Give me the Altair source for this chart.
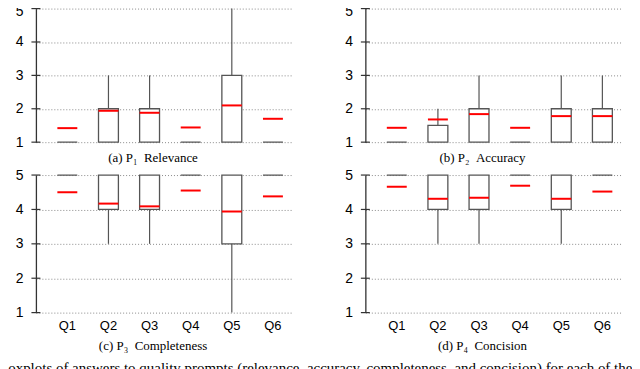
import altair as alt
import pandas as pd

questions = ["Q1", "Q2", "Q3", "Q4", "Q5", "Q6"]
tick_values = [1, 2, 3, 4, 5]

# (a) P1 Relevance
rel_min = [1, 1, 1, 1, 1, 1]
rel_q1 = [1, 1, 1, 1, 1, 1]
rel_q3 = [1, 2, 2, 1, 3, 1]
rel_max = [1, 3, 3, 1, 5, 1]
rel_mean = [1.42, 1.94, 1.88, 1.44, 2.10, 1.70]

# (b) P2 Accuracy
acc_min = [1, 1, 1, 1, 1, 1]
acc_q1 = [1, 1, 1, 1, 1, 1]
acc_q3 = [1, 1.5, 2, 1, 2, 2]
acc_max = [1, 2, 3, 1, 3, 3]
acc_mean = [1.43, 1.68, 1.84, 1.43, 1.78, 1.78]

# (c) P3 Completeness
com_min = [5, 3, 3, 5, 1, 5]
com_q1 = [5, 4, 4, 5, 3, 5]
com_q3 = [5, 5, 5, 5, 5, 5]
com_max = [5, 5, 5, 5, 5, 5]
com_mean = [4.50, 4.17, 4.09, 4.55, 3.94, 4.38]

# (d) P4 Concision
con_min = [5, 3, 3, 5, 3, 5]
con_q1 = [5, 4, 4, 5, 4, 5]
con_q3 = [5, 5, 5, 5, 5, 5]
con_max = [5, 5, 5, 5, 5, 5]
con_mean = [4.66, 4.31, 4.34, 4.69, 4.31, 4.52]

captions = ["(a) P\u2081\u2002Relevance", "(b) P\u2082\u2002Accuracy",
            "(c) P\u2083\u2002Completeness", "(d) P\u2084\u2002Concision"]
figure_caption = ("Boxplots of answers to quality prompts (relevance, accuracy, "
                  "completeness, and concision) for each of the questions.")

SANS = "Liberation Sans"
SERIF = "Liberation Serif"


def panel(mins, q1s, q3s, maxs, means, caption, show_x, cap_offset, h, top_nudge):
    df = pd.DataFrame({"q": questions, "lo": mins, "q1": q1s, "q3": q3s,
                       "hi": maxs, "mean": means})
    xscale = alt.Scale(domain=questions, paddingInner=0.516,
                       paddingOuter=0.373, align=0.7)
    yscale = alt.Scale(domain=[1, 5], nice=False, zero=False)
    xaxis = alt.Axis(title=None, domain=False, ticks=False, grid=False,
                     labels=show_x, labelFontSize=13, labelFont=SANS,
                     labelColor="black", labelPadding=7, labelAngle=0)
    yaxis = alt.Axis(title=None, values=tick_values, format="d", domain=True,
                     domainColor="#333", domainWidth=1.3, ticks=False,
                     labelPadding=13, labelFontSize=14, labelFont=SANS,
                     labelColor="black", grid=True, gridColor="#8a8a8a",
                     gridDash=[1, 2], gridWidth=1,
                     labelOffset={"condition": {"test": "datum.value == 5",
                                                "value": top_nudge},
                                  "value": 0})
    base = alt.Chart(df)
    X = alt.X("q:N", scale=xscale, axis=xaxis, sort=questions)
    whisk = base.mark_rule(color="#555", strokeWidth=1.2).encode(
        x=X, y=alt.Y("lo:Q", scale=yscale, axis=yaxis), y2="hi:Q")
    box = base.mark_bar(fill="white", stroke="#555", strokeWidth=1.3).encode(
        x=X, y=alt.Y("q1:Q", scale=yscale, axis=yaxis), y2="q3:Q")
    mean = base.mark_tick(color="#ff0000", thickness=2, size=20,
                          orient="horizontal", opacity=1).encode(
        x=X, y=alt.Y("mean:Q", scale=yscale, axis=yaxis))
    ticks = alt.Chart(pd.DataFrame({"v": tick_values})).mark_tick(
        color="#333", thickness=1.2, size=9, orient="horizontal", opacity=1
    ).encode(x=alt.value(0), y=alt.Y("v:Q", scale=yscale, axis=yaxis))
    return alt.layer(whisk, box, mean, ticks).properties(
        width=257, height=h,
        title=alt.TitleParams(text=caption, orient="bottom", font=SERIF,
                              fontSize=13, fontWeight="normal", color="black",
                              offset=cap_offset, dx=-11, anchor="middle"))


a = panel(rel_min, rel_q1, rel_q3, rel_max, rel_mean, captions[0], False, 2.5, 134, 3)
b = panel(acc_min, acc_q1, acc_q3, acc_max, acc_mean, captions[1], False, 2.5, 134, 3)
c = panel(com_min, com_q1, com_q3, com_max, com_mean, captions[2], True, 8, 138, 0)
d = panel(con_min, con_q1, con_q3, con_max, con_mean, captions[3], True, 8, 138, 0)

chart = alt.concat(a, b, c, d, columns=2,
                   spacing=alt.RowColnumber(row=33, column=73.5),
                   bounds="flush").properties(
    padding={"left": -10, "top": -4, "right": -20, "bottom": 0},
    title=alt.TitleParams(text=figure_caption, orient="bottom", anchor="start",
                          font=SERIF, fontSize=15, fontWeight="normal",
                          color="black", offset=8, dx=-17, limit=660)
).configure_view(stroke=None)

chart.save("out.html", embed_options={"renderer": "svg", "actions": False})
